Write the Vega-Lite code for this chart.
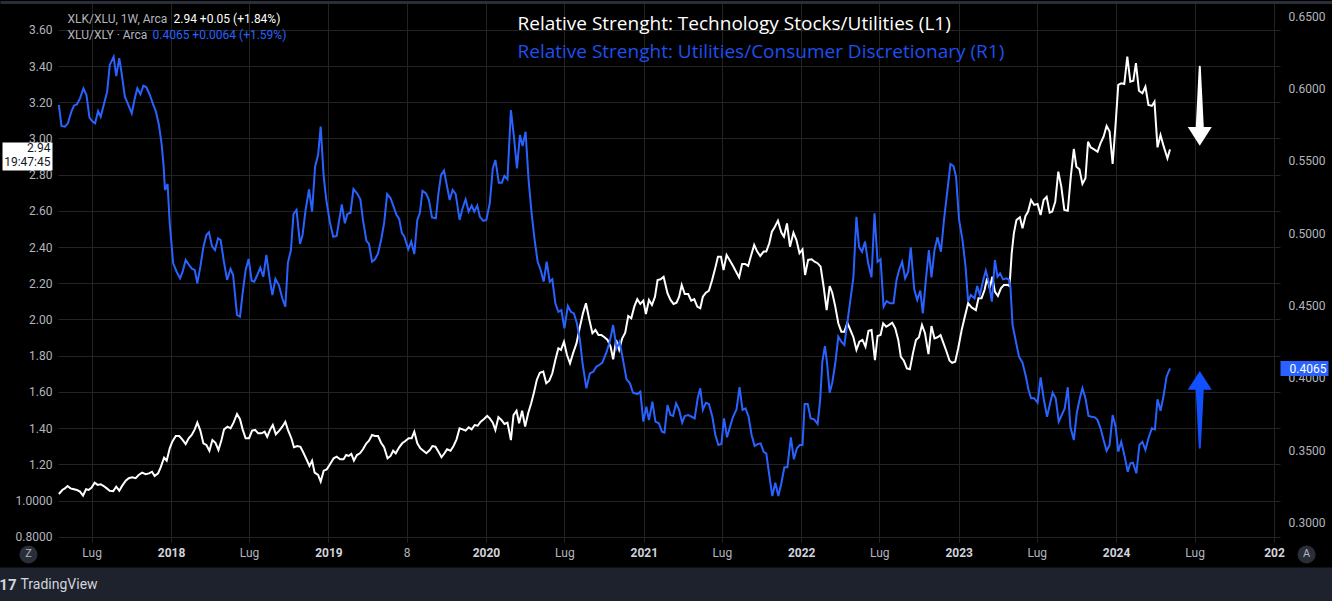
{
  "$schema": "https://vega.github.io/schema/vega-lite/v6.json",
  "width": 1222,
  "height": 539,
  "autosize": {"type": "none"},
  "padding": {"left": 58, "top": 3, "right": 52, "bottom": 59},
  "background": "#000000",
  "config": {"view": {"stroke": null}, "axis": {"labelFont": "Roboto", "titleFont": "Roboto"}},
  "datasets": {
    "blue": [
      {"date":"2017-04-16","value":0.5886},{"date":"2017-04-22","value":0.5741},{"date":"2017-04-30","value":0.5736},{"date":"2017-05-07","value":0.5759},{"date":"2017-05-15","value":0.5840},{"date":"2017-05-21","value":0.5881},{"date":"2017-05-28","value":0.5891},{"date":"2017-06-04","value":0.5932},{"date":"2017-06-12","value":0.6001},{"date":"2017-06-19","value":0.5955},{"date":"2017-06-26","value":0.5798},{"date":"2017-07-02","value":0.5775},{"date":"2017-07-09","value":0.5759},{"date":"2017-07-16","value":0.5844},{"date":"2017-07-22","value":0.5805},{"date":"2017-07-30","value":0.5898},{"date":"2017-08-06","value":0.5978},{"date":"2017-08-12","value":0.6163},{"date":"2017-08-21","value":0.6220},{"date":"2017-08-27","value":0.6086},{"date":"2017-09-03","value":0.6209},{"date":"2017-09-08","value":0.6116},{"date":"2017-09-16","value":0.5943},{"date":"2017-09-24","value":0.5886},{"date":"2017-10-02","value":0.5828},{"date":"2017-10-09","value":0.5932},{"date":"2017-10-15","value":0.6001},{"date":"2017-10-22","value":0.5960},{"date":"2017-10-29","value":0.6019},{"date":"2017-11-05","value":0.6008},{"date":"2017-11-13","value":0.5955},{"date":"2017-11-21","value":0.5886},{"date":"2017-11-27","value":0.5840},{"date":"2017-12-04","value":0.5748},{"date":"2017-12-10","value":0.5621},{"date":"2017-12-15","value":0.5459},{"date":"2017-12-18","value":0.5298},{"date":"2017-12-24","value":0.5340},{"date":"2017-12-29","value":0.5068},
      {"date":"2018-01-06","value":0.4791},{"date":"2018-01-14","value":0.4733},{"date":"2018-01-22","value":0.4687},{"date":"2018-01-28","value":0.4733},{"date":"2018-02-04","value":0.4814},{"date":"2018-02-12","value":0.4779},{"date":"2018-02-19","value":0.4752},{"date":"2018-02-25","value":0.4745},{"date":"2018-03-03","value":0.4653},{"date":"2018-03-10","value":0.4768},{"date":"2018-03-17","value":0.4902},{"date":"2018-03-24","value":0.4987},{"date":"2018-03-30","value":0.5006},{"date":"2018-04-06","value":0.4911},{"date":"2018-04-13","value":0.4883},{"date":"2018-04-20","value":0.4964},{"date":"2018-04-26","value":0.4952},{"date":"2018-05-03","value":0.4814},{"date":"2018-05-11","value":0.4676},{"date":"2018-05-19","value":0.4752},{"date":"2018-05-25","value":0.4710},{"date":"2018-06-03","value":0.4434},{"date":"2018-06-10","value":0.4422},{"date":"2018-06-16","value":0.4584},{"date":"2018-06-23","value":0.4745},{"date":"2018-06-30","value":0.4821},{"date":"2018-07-07","value":0.4671},{"date":"2018-07-13","value":0.4664},{"date":"2018-07-20","value":0.4710},{"date":"2018-07-27","value":0.4761},{"date":"2018-08-03","value":0.4698},{"date":"2018-08-10","value":0.4849},{"date":"2018-08-18","value":0.4676},{"date":"2018-08-24","value":0.4572},{"date":"2018-08-31","value":0.4683},{"date":"2018-09-08","value":0.4641},{"date":"2018-09-16","value":0.4549},{"date":"2018-09-23","value":0.4491},{"date":"2018-09-29","value":0.4795},{"date":"2018-10-06","value":0.4883},{"date":"2018-10-12","value":0.5132},{"date":"2018-10-19","value":0.5160},{"date":"2018-10-27","value":0.4925},{"date":"2018-11-02","value":0.4987},{"date":"2018-11-09","value":0.5160},{"date":"2018-11-17","value":0.5303},{"date":"2018-11-24","value":0.5148},{"date":"2018-12-01","value":0.5459},{"date":"2018-12-08","value":0.5540},{"date":"2018-12-14","value":0.5736},{"date":"2018-12-21","value":0.5390},{"date":"2018-12-27","value":0.5229},
      {"date":"2019-01-04","value":0.5079},{"date":"2019-01-12","value":0.4975},{"date":"2019-01-20","value":0.4980},{"date":"2019-01-26","value":0.5091},{"date":"2019-02-01","value":0.5199},{"date":"2019-02-08","value":0.5068},{"date":"2019-02-14","value":0.5132},{"date":"2019-02-21","value":0.5141},{"date":"2019-02-28","value":0.5305},{"date":"2019-03-08","value":0.5275},{"date":"2019-03-16","value":0.5234},{"date":"2019-03-22","value":0.5091},{"date":"2019-03-30","value":0.4947},{"date":"2019-04-05","value":0.4925},{"date":"2019-04-12","value":0.4802},{"date":"2019-04-19","value":0.4819},{"date":"2019-04-26","value":0.4860},{"date":"2019-05-03","value":0.4952},{"date":"2019-05-10","value":0.5068},{"date":"2019-05-17","value":0.5270},{"date":"2019-05-25","value":0.5241},{"date":"2019-06-01","value":0.5183},{"date":"2019-06-08","value":0.5125},{"date":"2019-06-14","value":0.5098},{"date":"2019-06-20","value":0.5003},{"date":"2019-06-26","value":0.4975},{"date":"2019-07-05","value":0.4888},{"date":"2019-07-12","value":0.4941},{"date":"2019-07-19","value":0.4855},{"date":"2019-07-26","value":0.5091},{"date":"2019-08-01","value":0.5141},{"date":"2019-08-07","value":0.5293},{"date":"2019-08-15","value":0.5275},{"date":"2019-08-22","value":0.5229},{"date":"2019-08-29","value":0.5109},{"date":"2019-09-07","value":0.5102},{"date":"2019-09-13","value":0.5275},{"date":"2019-09-19","value":0.5402},{"date":"2019-09-26","value":0.5432},{"date":"2019-10-03","value":0.5321},{"date":"2019-10-09","value":0.5229},{"date":"2019-10-16","value":0.5298},{"date":"2019-10-23","value":0.5270},{"date":"2019-11-01","value":0.5091},{"date":"2019-11-08","value":0.5172},{"date":"2019-11-15","value":0.5234},{"date":"2019-11-22","value":0.5148},{"date":"2019-11-29","value":0.5190},{"date":"2019-12-05","value":0.5148},{"date":"2019-12-12","value":0.5190},{"date":"2019-12-18","value":0.5113},{"date":"2019-12-26","value":0.5084},
      {"date":"2020-01-02","value":0.5091},{"date":"2020-01-10","value":0.5206},{"date":"2020-01-17","value":0.5448},{"date":"2020-01-23","value":0.5506},{"date":"2020-01-31","value":0.5349},{"date":"2020-02-07","value":0.5349},{"date":"2020-02-13","value":0.5395},{"date":"2020-02-20","value":0.5372},{"date":"2020-02-28","value":0.5851},{"date":"2020-03-06","value":0.5667},{"date":"2020-03-13","value":0.5448},{"date":"2020-03-20","value":0.5678},{"date":"2020-03-26","value":0.5602},{"date":"2020-04-02","value":0.5701},{"date":"2020-04-09","value":0.5367},{"date":"2020-04-16","value":0.5137},{"date":"2020-04-23","value":0.4952},{"date":"2020-04-30","value":0.4802},{"date":"2020-05-07","value":0.4745},{"date":"2020-05-14","value":0.4664},{"date":"2020-05-21","value":0.4802},{"date":"2020-05-28","value":0.4664},{"date":"2020-06-03","value":0.4680},{"date":"2020-06-10","value":0.4515},{"date":"2020-06-17","value":0.4456},{"date":"2020-06-24","value":0.4468},{"date":"2020-07-01","value":0.4342},{"date":"2020-07-09","value":0.4496},{"date":"2020-07-16","value":0.4456},{"date":"2020-07-23","value":0.4445},{"date":"2020-07-30","value":0.4376},{"date":"2020-08-06","value":0.4261},{"date":"2020-08-12","value":0.4100},{"date":"2020-08-21","value":0.3927},{"date":"2020-08-29","value":0.4030},{"date":"2020-09-06","value":0.4041},{"date":"2020-09-13","value":0.4076},{"date":"2020-09-20","value":0.4088},{"date":"2020-09-27","value":0.4104},{"date":"2020-10-07","value":0.4180},{"date":"2020-10-14","value":0.4249},{"date":"2020-10-22","value":0.4364},{"date":"2020-10-30","value":0.4203},{"date":"2020-11-06","value":0.4249},{"date":"2020-11-14","value":0.4122},{"date":"2020-11-22","value":0.3989},{"date":"2020-11-30","value":0.3961},{"date":"2020-12-07","value":0.3896},{"date":"2020-12-17","value":0.3887},{"date":"2020-12-24","value":0.3903},{"date":"2020-12-31","value":0.3696},
      {"date":"2021-01-07","value":0.3799},{"date":"2021-01-13","value":0.3707},{"date":"2021-01-21","value":0.3834},{"date":"2021-01-28","value":0.3696},{"date":"2021-02-05","value":0.3685},{"date":"2021-02-12","value":0.3627},{"date":"2021-02-18","value":0.3620},{"date":"2021-02-25","value":0.3811},{"date":"2021-03-04","value":0.3742},{"date":"2021-03-10","value":0.3735},{"date":"2021-03-17","value":0.3823},{"date":"2021-03-24","value":0.3777},{"date":"2021-03-31","value":0.3689},{"date":"2021-04-06","value":0.3735},{"date":"2021-04-14","value":0.3742},{"date":"2021-04-22","value":0.3730},{"date":"2021-04-29","value":0.3719},{"date":"2021-05-06","value":0.3858},{"date":"2021-05-12","value":0.3927},{"date":"2021-05-18","value":0.3777},{"date":"2021-05-25","value":0.3827},{"date":"2021-06-01","value":0.3818},{"date":"2021-06-09","value":0.3730},{"date":"2021-06-16","value":0.3604},{"date":"2021-06-23","value":0.3535},{"date":"2021-06-30","value":0.3541},{"date":"2021-07-06","value":0.3719},{"date":"2021-07-13","value":0.3588},{"date":"2021-07-20","value":0.3661},{"date":"2021-07-27","value":0.3730},{"date":"2021-08-04","value":0.3781},{"date":"2021-08-11","value":0.3934},{"date":"2021-08-18","value":0.3777},{"date":"2021-08-25","value":0.3788},{"date":"2021-09-01","value":0.3730},{"date":"2021-09-08","value":0.3604},{"date":"2021-09-15","value":0.3528},{"date":"2021-09-22","value":0.3541},{"date":"2021-09-29","value":0.3546},{"date":"2021-10-06","value":0.3488},{"date":"2021-10-12","value":0.3477},{"date":"2021-10-19","value":0.3327},{"date":"2021-10-26","value":0.3182},{"date":"2021-11-02","value":0.3274},{"date":"2021-11-09","value":0.3182},{"date":"2021-11-16","value":0.3270},{"date":"2021-11-23","value":0.3380},{"date":"2021-11-30","value":0.3380},{"date":"2021-12-08","value":0.3588},{"date":"2021-12-15","value":0.3436},{"date":"2021-12-22","value":0.3512},{"date":"2021-12-29","value":0.3535},
      {"date":"2022-01-04","value":0.3535},{"date":"2022-01-09","value":0.3818},{"date":"2022-01-16","value":0.3818},{"date":"2022-01-23","value":0.3719},{"date":"2022-01-31","value":0.3712},{"date":"2022-02-08","value":0.3680},{"date":"2022-02-14","value":0.3846},{"date":"2022-02-19","value":0.4111},{"date":"2022-02-25","value":0.4219},{"date":"2022-03-02","value":0.4100},{"date":"2022-03-08","value":0.3896},{"date":"2022-03-14","value":0.3965},{"date":"2022-03-21","value":0.4100},{"date":"2022-03-28","value":0.4284},{"date":"2022-04-04","value":0.4249},{"date":"2022-04-11","value":0.4226},{"date":"2022-04-17","value":0.4358},{"date":"2022-04-24","value":0.4515},{"date":"2022-05-02","value":0.4694},{"date":"2022-05-09","value":0.5113},{"date":"2022-05-15","value":0.4906},{"date":"2022-05-22","value":0.4871},{"date":"2022-05-29","value":0.4941},{"date":"2022-06-05","value":0.4795},{"date":"2022-06-13","value":0.4694},{"date":"2022-06-20","value":0.5137},{"date":"2022-06-27","value":0.4802},{"date":"2022-07-04","value":0.4819},{"date":"2022-07-11","value":0.4491},{"date":"2022-07-18","value":0.4530},{"date":"2022-07-26","value":0.4515},{"date":"2022-08-03","value":0.4515},{"date":"2022-08-10","value":0.4676},{"date":"2022-08-16","value":0.4745},{"date":"2022-08-23","value":0.4802},{"date":"2022-08-30","value":0.4687},{"date":"2022-09-06","value":0.4733},{"date":"2022-09-12","value":0.4902},{"date":"2022-09-20","value":0.4611},{"date":"2022-09-27","value":0.4537},{"date":"2022-10-04","value":0.4602},{"date":"2022-10-10","value":0.4445},{"date":"2022-10-17","value":0.4676},{"date":"2022-10-24","value":0.4883},{"date":"2022-10-30","value":0.4694},{"date":"2022-11-06","value":0.4883},{"date":"2022-11-13","value":0.4971},{"date":"2022-11-21","value":0.4871},{"date":"2022-11-28","value":0.5091},{"date":"2022-12-06","value":0.5298},{"date":"2022-12-13","value":0.5478},{"date":"2022-12-20","value":0.5464},{"date":"2022-12-26","value":0.5390},
      {"date":"2023-01-02","value":0.5091},{"date":"2023-01-10","value":0.4952},{"date":"2023-01-17","value":0.4768},{"date":"2023-01-23","value":0.4526},{"date":"2023-01-29","value":0.4572},{"date":"2023-02-07","value":0.4549},{"date":"2023-02-13","value":0.4634},{"date":"2023-02-19","value":0.4572},{"date":"2023-02-27","value":0.4676},{"date":"2023-03-05","value":0.4740},{"date":"2023-03-11","value":0.4671},{"date":"2023-03-19","value":0.4526},{"date":"2023-03-26","value":0.4814},{"date":"2023-04-01","value":0.4698},{"date":"2023-04-07","value":0.4722},{"date":"2023-04-14","value":0.4680},{"date":"2023-04-22","value":0.4687},{"date":"2023-04-28","value":0.4676},{"date":"2023-05-01","value":0.4629},{"date":"2023-05-06","value":0.4364},{"date":"2023-05-13","value":0.4261},{"date":"2023-05-21","value":0.4145},{"date":"2023-05-29","value":0.4104},{"date":"2023-06-06","value":0.4007},{"date":"2023-06-12","value":0.3915},{"date":"2023-06-18","value":0.3858},{"date":"2023-06-25","value":0.3858},{"date":"2023-07-03","value":0.3827},{"date":"2023-07-10","value":0.4003},{"date":"2023-07-17","value":0.3858},{"date":"2023-07-25","value":0.3730},{"date":"2023-08-01","value":0.3823},{"date":"2023-08-07","value":0.3896},{"date":"2023-08-14","value":0.3858},{"date":"2023-08-21","value":0.3696},{"date":"2023-08-28","value":0.3742},{"date":"2023-09-04","value":0.3788},{"date":"2023-09-11","value":0.3934},{"date":"2023-09-17","value":0.3661},{"date":"2023-09-25","value":0.3569},{"date":"2023-10-02","value":0.3758},{"date":"2023-10-09","value":0.3858},{"date":"2023-10-15","value":0.3927},{"date":"2023-10-22","value":0.3858},{"date":"2023-10-29","value":0.3735},{"date":"2023-11-05","value":0.3730},{"date":"2023-11-13","value":0.3726},{"date":"2023-11-19","value":0.3707},{"date":"2023-11-26","value":0.3650},{"date":"2023-12-03","value":0.3569},{"date":"2023-12-10","value":0.3495},{"date":"2023-12-17","value":0.3535},{"date":"2023-12-24","value":0.3742},{"date":"2023-12-31","value":0.3661},
      {"date":"2024-01-06","value":0.3488},{"date":"2024-01-13","value":0.3557},{"date":"2024-01-21","value":0.3454},{"date":"2024-01-28","value":0.3350},{"date":"2024-02-03","value":0.3408},{"date":"2024-02-09","value":0.3412},{"date":"2024-02-17","value":0.3339},{"date":"2024-02-24","value":0.3535},{"date":"2024-03-02","value":0.3557},{"date":"2024-03-09","value":0.3500},{"date":"2024-03-16","value":0.3581},{"date":"2024-03-24","value":0.3650},{"date":"2024-03-31","value":0.3643},{"date":"2024-04-06","value":0.3851},{"date":"2024-04-13","value":0.3772},{"date":"2024-04-20","value":0.3873},{"date":"2024-04-27","value":0.4007},{"date":"2024-05-05","value":0.4065}
    ],
    "white": [
      {"date":"2017-04-16","value":1.036},{"date":"2017-04-24","value":1.058},{"date":"2017-04-30","value":1.067},{"date":"2017-05-06","value":1.080},{"date":"2017-05-13","value":1.067},{"date":"2017-05-21","value":1.062},{"date":"2017-05-28","value":1.058},{"date":"2017-06-04","value":1.049},{"date":"2017-06-11","value":1.027},{"date":"2017-06-18","value":1.062},{"date":"2017-06-24","value":1.058},{"date":"2017-07-01","value":1.071},{"date":"2017-07-08","value":1.098},{"date":"2017-07-15","value":1.086},{"date":"2017-07-22","value":1.090},{"date":"2017-07-29","value":1.080},{"date":"2017-08-05","value":1.067},{"date":"2017-08-12","value":1.054},{"date":"2017-08-20","value":1.052},{"date":"2017-08-27","value":1.076},{"date":"2017-09-03","value":1.054},{"date":"2017-09-10","value":1.082},{"date":"2017-09-18","value":1.109},{"date":"2017-09-25","value":1.123},{"date":"2017-10-03","value":1.128},{"date":"2017-10-11","value":1.123},{"date":"2017-10-18","value":1.141},{"date":"2017-10-26","value":1.154},{"date":"2017-11-03","value":1.145},{"date":"2017-11-11","value":1.150},{"date":"2017-11-18","value":1.159},{"date":"2017-11-24","value":1.135},{"date":"2017-12-02","value":1.150},{"date":"2017-12-08","value":1.183},{"date":"2017-12-16","value":1.236},{"date":"2017-12-22","value":1.220},{"date":"2017-12-29","value":1.288},
      {"date":"2018-01-04","value":1.325},{"date":"2018-01-12","value":1.356},{"date":"2018-01-20","value":1.356},{"date":"2018-01-27","value":1.338},{"date":"2018-02-04","value":1.312},{"date":"2018-02-11","value":1.344},{"date":"2018-02-18","value":1.362},{"date":"2018-02-25","value":1.393},{"date":"2018-03-03","value":1.430},{"date":"2018-03-10","value":1.386},{"date":"2018-03-17","value":1.316},{"date":"2018-03-24","value":1.307},{"date":"2018-03-31","value":1.275},{"date":"2018-04-07","value":1.334},{"date":"2018-04-14","value":1.319},{"date":"2018-04-21","value":1.279},{"date":"2018-04-28","value":1.334},{"date":"2018-05-04","value":1.393},{"date":"2018-05-12","value":1.408},{"date":"2018-05-19","value":1.399},{"date":"2018-05-26","value":1.430},{"date":"2018-06-03","value":1.478},{"date":"2018-06-10","value":1.449},{"date":"2018-06-16","value":1.393},{"date":"2018-06-23","value":1.344},{"date":"2018-07-01","value":1.344},{"date":"2018-07-08","value":1.386},{"date":"2018-07-15","value":1.390},{"date":"2018-07-22","value":1.371},{"date":"2018-07-30","value":1.371},{"date":"2018-08-06","value":1.380},{"date":"2018-08-12","value":1.352},{"date":"2018-08-19","value":1.393},{"date":"2018-08-25","value":1.417},{"date":"2018-09-01","value":1.366},{"date":"2018-09-09","value":1.386},{"date":"2018-09-16","value":1.408},{"date":"2018-09-23","value":1.435},{"date":"2018-09-29","value":1.390},{"date":"2018-10-07","value":1.344},{"date":"2018-10-13","value":1.294},{"date":"2018-10-21","value":1.301},{"date":"2018-10-28","value":1.297},{"date":"2018-11-04","value":1.264},{"date":"2018-11-11","value":1.228},{"date":"2018-11-18","value":1.191},{"date":"2018-11-24","value":1.220},{"date":"2018-11-30","value":1.154},{"date":"2018-12-08","value":1.141},{"date":"2018-12-14","value":1.104},{"date":"2018-12-21","value":1.165},{"date":"2018-12-28","value":1.172},
      {"date":"2019-01-05","value":1.202},{"date":"2019-01-13","value":1.233},{"date":"2019-01-20","value":1.242},{"date":"2019-01-28","value":1.228},{"date":"2019-02-05","value":1.228},{"date":"2019-02-11","value":1.251},{"date":"2019-02-17","value":1.246},{"date":"2019-02-23","value":1.257},{"date":"2019-03-01","value":1.220},{"date":"2019-03-08","value":1.251},{"date":"2019-03-15","value":1.261},{"date":"2019-03-22","value":1.283},{"date":"2019-03-30","value":1.316},{"date":"2019-04-05","value":1.330},{"date":"2019-04-12","value":1.362},{"date":"2019-04-19","value":1.356},{"date":"2019-04-26","value":1.356},{"date":"2019-05-03","value":1.319},{"date":"2019-05-10","value":1.294},{"date":"2019-05-18","value":1.233},{"date":"2019-05-25","value":1.246},{"date":"2019-05-31","value":1.275},{"date":"2019-06-06","value":1.261},{"date":"2019-06-14","value":1.294},{"date":"2019-06-21","value":1.316},{"date":"2019-06-29","value":1.330},{"date":"2019-07-06","value":1.344},{"date":"2019-07-13","value":1.344},{"date":"2019-07-19","value":1.380},{"date":"2019-07-26","value":1.316},{"date":"2019-08-02","value":1.288},{"date":"2019-08-09","value":1.275},{"date":"2019-08-16","value":1.261},{"date":"2019-08-24","value":1.279},{"date":"2019-08-30","value":1.301},{"date":"2019-09-06","value":1.297},{"date":"2019-09-13","value":1.270},{"date":"2019-09-20","value":1.239},{"date":"2019-09-27","value":1.261},{"date":"2019-10-03","value":1.283},{"date":"2019-10-11","value":1.275},{"date":"2019-10-18","value":1.301},{"date":"2019-10-25","value":1.338},{"date":"2019-11-01","value":1.399},{"date":"2019-11-08","value":1.393},{"date":"2019-11-15","value":1.386},{"date":"2019-11-22","value":1.404},{"date":"2019-11-29","value":1.393},{"date":"2019-12-06","value":1.417},{"date":"2019-12-13","value":1.413},{"date":"2019-12-20","value":1.435},{"date":"2019-12-27","value":1.449},
      {"date":"2020-01-04","value":1.467},{"date":"2020-01-10","value":1.454},{"date":"2020-01-17","value":1.430},{"date":"2020-01-23","value":1.390},{"date":"2020-01-30","value":1.460},{"date":"2020-02-06","value":1.445},{"date":"2020-02-13","value":1.423},{"date":"2020-02-20","value":1.430},{"date":"2020-02-28","value":1.334},{"date":"2020-03-05","value":1.472},{"date":"2020-03-12","value":1.496},{"date":"2020-03-18","value":1.427},{"date":"2020-03-25","value":1.496},{"date":"2020-04-01","value":1.408},{"date":"2020-04-08","value":1.482},{"date":"2020-04-15","value":1.537},{"date":"2020-04-21","value":1.592},{"date":"2020-04-28","value":1.666},{"date":"2020-05-05","value":1.706},{"date":"2020-05-13","value":1.712},{"date":"2020-05-20","value":1.648},{"date":"2020-05-27","value":1.662},{"date":"2020-06-03","value":1.703},{"date":"2020-06-10","value":1.776},{"date":"2020-06-17","value":1.841},{"date":"2020-06-23","value":1.832},{"date":"2020-06-30","value":1.877},{"date":"2020-07-07","value":1.804},{"date":"2020-07-14","value":1.758},{"date":"2020-07-21","value":1.813},{"date":"2020-07-29","value":1.868},{"date":"2020-08-06","value":1.960},{"date":"2020-08-13","value":2.034},{"date":"2020-08-20","value":2.090},{"date":"2020-08-27","value":2.007},{"date":"2020-09-04","value":1.924},{"date":"2020-09-11","value":1.942},{"date":"2020-09-18","value":1.914},{"date":"2020-09-25","value":1.914},{"date":"2020-10-02","value":1.902},{"date":"2020-10-09","value":1.887},{"date":"2020-10-16","value":1.850},{"date":"2020-10-22","value":1.780},{"date":"2020-10-29","value":1.887},{"date":"2020-11-05","value":1.832},{"date":"2020-11-12","value":1.896},{"date":"2020-11-19","value":1.927},{"date":"2020-11-26","value":2.019},{"date":"2020-12-03","value":2.007},{"date":"2020-12-10","value":2.071},{"date":"2020-12-17","value":2.112},{"date":"2020-12-24","value":2.086},{"date":"2020-12-31","value":2.104},
      {"date":"2021-01-06","value":2.030},{"date":"2021-01-13","value":2.108},{"date":"2021-01-20","value":2.080},{"date":"2021-01-27","value":2.126},{"date":"2021-02-02","value":2.218},{"date":"2021-02-09","value":2.222},{"date":"2021-02-16","value":2.236},{"date":"2021-02-25","value":2.145},{"date":"2021-03-04","value":2.108},{"date":"2021-03-11","value":2.086},{"date":"2021-03-18","value":2.093},{"date":"2021-03-24","value":2.126},{"date":"2021-03-30","value":2.191},{"date":"2021-04-06","value":2.141},{"date":"2021-04-14","value":2.141},{"date":"2021-04-21","value":2.104},{"date":"2021-04-28","value":2.112},{"date":"2021-05-05","value":2.071},{"date":"2021-05-12","value":2.062},{"date":"2021-05-18","value":2.126},{"date":"2021-05-25","value":2.148},{"date":"2021-06-01","value":2.159},{"date":"2021-06-08","value":2.214},{"date":"2021-06-15","value":2.277},{"date":"2021-06-22","value":2.347},{"date":"2021-06-29","value":2.347},{"date":"2021-07-05","value":2.273},{"date":"2021-07-12","value":2.356},{"date":"2021-07-20","value":2.325},{"date":"2021-07-27","value":2.296},{"date":"2021-08-03","value":2.264},{"date":"2021-08-10","value":2.233},{"date":"2021-08-17","value":2.307},{"date":"2021-08-24","value":2.307},{"date":"2021-08-31","value":2.296},{"date":"2021-09-06","value":2.347},{"date":"2021-09-14","value":2.412},{"date":"2021-09-21","value":2.375},{"date":"2021-09-28","value":2.351},{"date":"2021-10-06","value":2.375},{"date":"2021-10-12","value":2.375},{"date":"2021-10-19","value":2.421},{"date":"2021-10-25","value":2.485},{"date":"2021-11-01","value":2.513},{"date":"2021-11-08","value":2.546},{"date":"2021-11-16","value":2.480},{"date":"2021-11-22","value":2.458},{"date":"2021-11-29","value":2.531},{"date":"2021-12-06","value":2.402},{"date":"2021-12-14","value":2.480},{"date":"2021-12-21","value":2.439},{"date":"2021-12-28","value":2.366},
      {"date":"2022-01-04","value":2.388},{"date":"2022-01-10","value":2.246},{"date":"2022-01-17","value":2.329},{"date":"2022-01-25","value":2.333},{"date":"2022-02-01","value":2.319},{"date":"2022-02-08","value":2.311},{"date":"2022-02-15","value":2.292},{"date":"2022-02-22","value":2.181},{"date":"2022-03-01","value":2.052},{"date":"2022-03-08","value":2.185},{"date":"2022-03-14","value":2.148},{"date":"2022-03-21","value":2.071},{"date":"2022-03-28","value":1.979},{"date":"2022-04-04","value":1.933},{"date":"2022-04-11","value":1.933},{"date":"2022-04-18","value":1.982},{"date":"2022-04-25","value":1.942},{"date":"2022-05-02","value":1.902},{"date":"2022-05-09","value":1.832},{"date":"2022-05-16","value":1.877},{"date":"2022-05-23","value":1.887},{"date":"2022-05-30","value":1.850},{"date":"2022-06-06","value":1.938},{"date":"2022-06-13","value":1.942},{"date":"2022-06-21","value":1.776},{"date":"2022-06-27","value":1.909},{"date":"2022-07-04","value":1.914},{"date":"2022-07-10","value":1.979},{"date":"2022-07-17","value":1.960},{"date":"2022-07-24","value":1.970},{"date":"2022-07-31","value":1.982},{"date":"2022-08-07","value":1.951},{"date":"2022-08-14","value":1.887},{"date":"2022-08-20","value":1.794},{"date":"2022-08-27","value":1.772},{"date":"2022-09-03","value":1.730},{"date":"2022-09-10","value":1.725},{"date":"2022-09-17","value":1.813},{"date":"2022-09-24","value":1.887},{"date":"2022-10-01","value":1.902},{"date":"2022-10-08","value":1.970},{"date":"2022-10-15","value":1.924},{"date":"2022-10-23","value":1.809},{"date":"2022-10-30","value":1.964},{"date":"2022-11-06","value":1.896},{"date":"2022-11-13","value":1.902},{"date":"2022-11-20","value":1.914},{"date":"2022-11-27","value":1.868},{"date":"2022-12-04","value":1.822},{"date":"2022-12-11","value":1.772},{"date":"2022-12-17","value":1.761},{"date":"2022-12-24","value":1.767},{"date":"2022-12-31","value":1.841},
      {"date":"2023-01-08","value":1.942},{"date":"2023-01-15","value":2.012},{"date":"2023-01-23","value":2.090},{"date":"2023-01-31","value":2.067},{"date":"2023-02-10","value":2.052},{"date":"2023-02-16","value":2.117},{"date":"2023-02-23","value":2.117},{"date":"2023-03-02","value":2.163},{"date":"2023-03-08","value":2.228},{"date":"2023-03-14","value":2.172},{"date":"2023-03-20","value":2.236},{"date":"2023-03-26","value":2.154},{"date":"2023-04-02","value":2.130},{"date":"2023-04-09","value":2.172},{"date":"2023-04-16","value":2.191},{"date":"2023-04-24","value":2.191},{"date":"2023-04-29","value":2.185},{"date":"2023-05-04","value":2.366},{"date":"2023-05-09","value":2.476},{"date":"2023-05-15","value":2.550},{"date":"2023-05-23","value":2.565},{"date":"2023-05-29","value":2.504},{"date":"2023-06-05","value":2.572},{"date":"2023-06-11","value":2.596},{"date":"2023-06-18","value":2.660},{"date":"2023-06-25","value":2.633},{"date":"2023-07-03","value":2.638},{"date":"2023-07-10","value":2.577},{"date":"2023-07-17","value":2.660},{"date":"2023-07-24","value":2.678},{"date":"2023-07-31","value":2.590},{"date":"2023-08-06","value":2.596},{"date":"2023-08-13","value":2.651},{"date":"2023-08-20","value":2.817},{"date":"2023-08-27","value":2.734},{"date":"2023-09-03","value":2.605},{"date":"2023-09-11","value":2.601},{"date":"2023-09-18","value":2.789},{"date":"2023-09-25","value":2.942},{"date":"2023-10-01","value":2.844},{"date":"2023-10-08","value":2.830},{"date":"2023-10-15","value":2.749},{"date":"2023-10-22","value":2.780},{"date":"2023-10-28","value":2.982},{"date":"2023-11-03","value":2.951},{"date":"2023-11-11","value":2.940},{"date":"2023-11-19","value":2.927},{"date":"2023-11-26","value":2.974},{"date":"2023-12-03","value":3.010},{"date":"2023-12-10","value":3.069},{"date":"2023-12-17","value":3.038},{"date":"2023-12-24","value":2.859},{"date":"2023-12-31","value":3.084},
      {"date":"2024-01-06","value":3.296},{"date":"2024-01-13","value":3.305},{"date":"2024-01-20","value":3.301},{"date":"2024-01-27","value":3.452},{"date":"2024-02-03","value":3.314},{"date":"2024-02-10","value":3.319},{"date":"2024-02-16","value":3.416},{"date":"2024-02-23","value":3.264},{"date":"2024-03-02","value":3.250},{"date":"2024-03-09","value":3.286},{"date":"2024-03-16","value":3.185},{"date":"2024-03-24","value":3.180},{"date":"2024-03-30","value":3.203},{"date":"2024-04-06","value":2.951},{"date":"2024-04-13","value":3.019},{"date":"2024-04-20","value":2.959},{"date":"2024-04-29","value":2.891},{"date":"2024-05-05","value":2.940}
    ],
    "whiteArrow": [
      {"date":"2024-07-13","value":3.397,"part":"tail"},
      {"date":"2024-07-13","value":3.064,"part":"base"}
    ],
    "whiteHead": [{"date":"2024-07-13","value":3.012}],
    "blueArrow": [
      {"date":"2024-07-13","value":0.3516,"part":"tail"},
      {"date":"2024-07-13","value":0.3915,"part":"base"}
    ],
    "blueHead": [{"date":"2024-07-13","value":0.3981}],
    "buttons": [{"date":"2024-07-13","value":0.5}]
  },
  "layer": [
    {
      "encoding": {
        "x": {
          "field": "date", "type": "temporal",
          "scale": {"domain": [{"year": 2017, "month": 4, "date": 14, "utc": true}, {"year": 2025, "month": 1, "date": 15, "utc": true}]},
          "axis": {
            "orient": "bottom",
            "values": [
              {"year": 2017, "month": 7, "date": 1, "utc": true}, {"year": 2018, "month": 1, "date": 1, "utc": true},
              {"year": 2018, "month": 7, "date": 1, "utc": true}, {"year": 2019, "month": 1, "date": 1, "utc": true},
              {"year": 2019, "month": 7, "date": 1, "utc": true}, {"year": 2020, "month": 1, "date": 1, "utc": true},
              {"year": 2020, "month": 7, "date": 1, "utc": true}, {"year": 2021, "month": 1, "date": 1, "utc": true},
              {"year": 2021, "month": 7, "date": 1, "utc": true}, {"year": 2022, "month": 1, "date": 1, "utc": true},
              {"year": 2022, "month": 7, "date": 1, "utc": true}, {"year": 2023, "month": 1, "date": 1, "utc": true},
              {"year": 2023, "month": 7, "date": 1, "utc": true}, {"year": 2024, "month": 1, "date": 1, "utc": true},
              {"year": 2024, "month": 7, "date": 1, "utc": true}, {"year": 2025, "month": 1, "date": 1, "utc": true}
            ],
            "labelExpr": "utcmonth(datum.value) == 6 ? (utcyear(datum.value) == 2019 ? '8' : 'Lug') : (utcyear(datum.value) == 2025 ? '202' : utcFormat(datum.value, '%Y'))",
            "labelOverlap": false, "labelFlush": false,
            "grid": true, "gridColor": "#232323", "gridWidth": 1,
            "ticks": false, "domain": false,
            "labelColor": {"condition": {"test": "utcmonth(datum.value) == 0", "value": "#d1d4dc"}, "value": "#b2b5be"},
            "labelFontWeight": {"condition": {"test": "utcmonth(datum.value) == 0", "value": "bold"}, "value": "normal"},
            "labelFontSize": 12, "labelPadding": 5,
            "title": "Relative Strenght: Technology Stocks/Utilities (L1)",
            "titleX": 459, "titleY": -519, "titleAngle": 0, "titleAlign": "left", "titleBaseline": "middle",
            "titleColor": "#ffffff", "titleFont": "Open Sans", "titleFontSize": 19, "titleFontWeight": "normal", "titleLimit": 1000
          }
        }
      },
      "layer": [
        {
          "data": {"name": "white"},
          "mark": {"type": "line", "color": "#ffffff", "strokeWidth": 2},
          "encoding": {
            "y": {
              "field": "value", "type": "quantitative",
              "scale": {"domain": [0.77072, 3.7486], "nice": false, "zero": false},
              "axis": {
                "orient": "left",
                "values": [0.8, 1.0, 1.2, 1.4, 1.6, 1.8, 2.0, 2.2, 2.4, 2.6, 2.8, 3.0, 3.2, 3.4, 3.6],
                "labelExpr": "datum.value < 1.05 ? format(datum.value, '.4f') : format(datum.value, '.2f')",
                "grid": true, "gridColor": "#232323", "ticks": false, "domain": false,
                "labelColor": "#b2b5be", "labelFontSize": 12, "labelPadding": 6,
                "title": "2.94  +0.05 (+1.84%)", "titleX": 115, "titleY": 15, "titleAngle": 0,
                "titleAlign": "left", "titleBaseline": "middle", "titleColor": "#ffffff",
                "titleFontSize": 12, "titleFontWeight": "normal"
              }
            }
          }
        },
        {
          "data": {"name": "whiteArrow"},
          "mark": {"type": "trail", "color": "#ffffff"},
          "encoding": {
            "y": {
              "field": "value", "type": "quantitative",
              "scale": {"domain": [0.77072, 3.7486], "nice": false, "zero": false},
              "axis": {
                "orient": "left", "offset": 6, "values": [2.94],
                "labelExpr": "['2.94', '19:47:45']",
                "grid": false, "domain": false, "ticks": true,
                "tickSize": 50, "tickWidth": 28, "tickColor": "#ffffff", "tickCap": "butt", "tickOffset": 6.6,
                "labelOffset": -13.7, "labelBaseline": "top", "labelAlign": "right", "labelPadding": -48,
                "labelColor": "#131722", "labelFontSize": 12, "labelLineHeight": 14,
                "title": "XLK/XLU, 1W, Arca", "titleX": 15, "titleY": 15, "titleAngle": 0,
                "titleAlign": "left", "titleBaseline": "middle", "titleColor": "#b2b5be",
                "titleFontSize": 12, "titleFontWeight": "normal"
              }
            },
            "size": {"field": "part", "type": "ordinal", "scale": {"domain": ["tail", "base"], "range": [2, 8]}, "legend": null}
          }
        },
        {
          "data": {"name": "whiteHead"},
          "mark": {"type": "point", "shape": "M-1,-0.78L1,-0.78L0,0.78Z", "filled": true, "size": 576, "color": "#ffffff", "opacity": 1, "strokeWidth": 0},
          "encoding": {
            "y": {
              "field": "value", "type": "quantitative",
              "scale": {"domain": [0.77072, 3.7486], "nice": false, "zero": false},
              "axis": {
                "orient": "left", "offset": -1282, "values": [3.748],
                "labels": false, "domain": false, "grid": false,
                "ticks": true, "tickSize": 1340, "tickWidth": 3, "tickColor": "#2a2e39", "tickCap": "butt", "tickOffset": -1.6,
                "title": "Relative Strenght: Utilities/Consumer Discretionary (R1)",
                "titleX": -823, "titleY": 48, "titleAngle": 0, "titleAlign": "left", "titleBaseline": "middle",
                "titleColor": "#1f4fef", "titleFont": "Open Sans", "titleFontSize": 19, "titleFontWeight": "normal", "titleLimit": 1000
              }
            }
          }
        }
      ],
      "resolve": {"axis": {"y": "independent"}}
    },
    {
      "encoding": {
        "x": {
          "field": "date", "type": "temporal",
          "scale": {"domain": [{"year": 2017, "month": 4, "date": 14, "utc": true}, {"year": 2025, "month": 1, "date": 15, "utc": true}]},
          "axis": {
            "orient": "bottom", "offset": 25,
            "values": [{"year": 2021, "month": 2, "date": 21, "utc": true}],
            "labels": false, "grid": false, "domain": false, "ticks": true,
            "tickSize": 34, "tickWidth": 1340, "tickColor": "#1e222d", "tickCap": "butt",
            "title": "TradingView", "titleX": -38, "titleY": 17, "titleAngle": 0,
            "titleAlign": "left", "titleBaseline": "middle", "titleColor": "#d1d4dc",
            "titleFontSize": 14, "titleFontWeight": "normal"
          }
        }
      },
      "layer": [
        {
          "data": {"name": "blue"},
          "mark": {"type": "line", "color": "#2962ff", "strokeWidth": 2},
          "encoding": {
            "y": {
              "field": "value", "type": "quantitative",
              "scale": {"domain": [0.28638, 0.65913], "nice": false, "zero": false},
              "axis": {
                "orient": "right",
                "values": [0.3, 0.35, 0.4, 0.45, 0.5, 0.55, 0.6, 0.65],
                "format": ".4f",
                "grid": false, "ticks": false, "domain": false,
                "labelColor": "#b2b5be", "labelFontSize": 12, "labelPadding": 8, "labelAlign": "left",
                "title": "0.4065  +0.0064 (+1.59%)", "titleX": -1128, "titleY": 31, "titleAngle": 0,
                "titleAlign": "left", "titleBaseline": "middle", "titleColor": "#2962ff",
                "titleFontSize": 12, "titleFontWeight": "normal"
              }
            }
          }
        },
        {
          "data": {"name": "blueArrow"},
          "mark": {"type": "trail", "color": "#1150ff"},
          "encoding": {
            "y": {
              "field": "value", "type": "quantitative",
              "scale": {"domain": [0.28638, 0.65913], "nice": false, "zero": false},
              "axis": {
                "orient": "right", "values": [0.4065], "format": ".4f",
                "grid": false, "domain": false, "ticks": true,
                "tickSize": 48, "tickWidth": 15, "tickColor": "#2962ff", "tickCap": "butt",
                "labelColor": "#ffffff", "labelPadding": -39, "labelAlign": "left", "labelBaseline": "middle",
                "labelFontSize": 12,
                "title": "XLU/XLY · Arca", "titleX": -1213, "titleY": 31, "titleAngle": 0,
                "titleAlign": "left", "titleBaseline": "middle", "titleColor": "#b2b5be",
                "titleFontSize": 12, "titleFontWeight": "normal"
              }
            },
            "size": {"field": "part", "type": "ordinal", "scale": {"domain": ["tail", "base"], "range": [2, 8]}, "legend": null}
          }
        },
        {
          "data": {"name": "blueHead"},
          "mark": {"type": "point", "shape": "M-1,0.78L1,0.78L0,-0.78Z", "filled": true, "size": 576, "color": "#1150ff", "opacity": 1, "strokeWidth": 0},
          "encoding": {
            "y": {
              "field": "value", "type": "quantitative",
              "scale": {"domain": [0.28638, 0.65913], "nice": false, "zero": false},
              "axis": {
                "orient": "right", "labels": false, "ticks": false, "domain": false, "grid": false,
                "title": "17", "titleX": -1264, "titleY": 581, "titleAngle": 0, "titleAlign": "right", "titleBaseline": "middle",
                "titleColor": "#d1d4dc", "titleFont": "Roboto", "titleFontSize": 15, "titleFontWeight": "bold"
              }
            }
          }
        }
      ],
      "resolve": {"axis": {"y": "independent"}}
    },
    {
      "encoding": {
        "x": {
          "field": "date", "type": "temporal",
          "scale": {"domain": [{"year": 2017, "month": 4, "date": 14, "utc": true}, {"year": 2025, "month": 1, "date": 15, "utc": true}]},
          "axis": null
        }
      },
      "layer": [
        {
          "data": {"name": "buttons"},
          "mark": {"type": "point", "opacity": 0},
          "encoding": {
            "y": {
              "field": "value", "type": "quantitative",
              "scale": {"domain": [0, 1], "nice": false, "zero": false},
              "axis": {
                "orient": "left", "offset": 30, "values": [0.001], "labelExpr": "'Z'",
                "ticks": true, "tickSize": 0.1, "tickWidth": 18, "tickCap": "round", "tickColor": "#2a2e39", "tickOffset": 12.5,
                "labelOffset": 0, "labelPadding": -0.1, "labelAlign": "center", "labelBaseline": "middle",
                "labelColor": "#b2b5be", "labelFontSize": 11, "labelFlush": false,
                "grid": false, "domain": false, "title": null
              }
            }
          }
        },
        {
          "data": {"name": "buttons"},
          "mark": {"type": "point", "opacity": 0},
          "encoding": {
            "y": {
              "field": "value", "type": "quantitative",
              "scale": {"domain": [0, 1], "nice": false, "zero": false},
              "axis": {
                "orient": "right", "offset": 26, "values": [0.001], "labelExpr": "'A'",
                "ticks": true, "tickSize": 0.1, "tickWidth": 18, "tickCap": "round", "tickColor": "#2a2e39", "tickOffset": 12.5,
                "labelOffset": 0, "labelPadding": -0.1, "labelAlign": "center", "labelBaseline": "middle",
                "labelColor": "#b2b5be", "labelFontSize": 11, "labelFlush": false,
                "grid": false, "domain": false, "title": null
              }
            }
          }
        }
      ],
      "resolve": {"axis": {"y": "independent"}}
    }
  ],
  "resolve": {"scale": {"y": "independent"}, "axis": {"x": "independent"}}
}
